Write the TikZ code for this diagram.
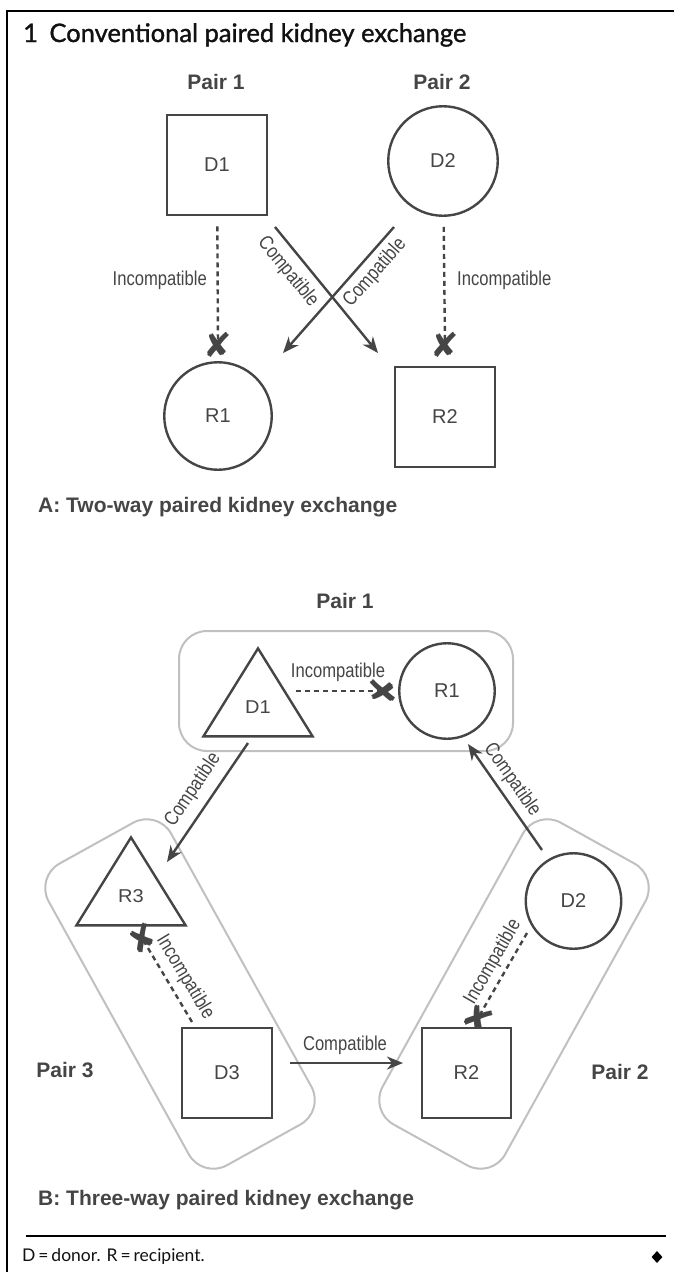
\documentclass[tikz,border=0pt]{standalone}
\usepackage{fontspec}
\setmainfont{Liberation Sans}
\newfontfamily\narrowfont[FakeStretch=0.83]{Liberation Sans}
\newfontfamily\titlefont[FakeBold=1.3]{Lato}
\newfontfamily\footfont{Lato}
\newfontfamily\symfont{DejaVu Sans}
\usetikzlibrary{shapes.geometric,arrows.meta,calc}
\definecolor{ink}{HTML}{454545}
\definecolor{boxg}{HTML}{BEC0C2}
\definecolor{titleink}{HTML}{111111}
\begin{document}
\begin{tikzpicture}[x=1pt,y=1pt,
  shp/.style={draw=ink, line width=2.4pt, text=ink, font=\fontsize{20}{24}\selectfont, inner sep=0pt},
  sq/.style={shp, rectangle, minimum size=#1},
  circ/.style={shp, circle, minimum size=#1},
  tri/.style={shp, regular polygon, regular polygon sides=3, minimum size=126, yscale=0.93},
  pairlbl/.style={text=ink, font=\fontsize{21}{25}\selectfont\bfseries, inner sep=0pt},
  edgelbl/.style={text=ink, font=\narrowfont\fontsize{20}{24}\selectfont, inner sep=0pt},
  comp/.style={draw=ink, line width=2.4pt, -{Stealth[length=16pt,width=13pt,inset=5pt]}},
  incomp/.style={draw=ink, line width=2.4pt, dash pattern=on 5pt off 4pt},
  xmark/.style={text=ink, font=\symfont\fontsize{34}{34}\selectfont, inner sep=0pt},
  pairbox/.style={draw=boxg, line width=2pt, rounded corners=28pt, inner sep=0pt},
]
\useasboundingbox (0,0) rectangle (674,-1272);
% frame
\coordinate (ftl) at (7,-11);
\coordinate (ftr) at (674,-11);
\coordinate (fbl) at (7,-1272);
\draw[line width=2.2pt] (ftr) -- (ftl) -- (fbl);
\node[anchor=base west, text=titleink, font=\titlefont\fontsize{25.5}{30}\selectfont, inner sep=0pt] (title) at (23,-42) {1\hspace{0.45em}Conventional paired kidney exchange};

% ---------- A ----------
\node[pairlbl] (p1a) at (216,-82) {Pair 1};
\node[pairlbl] (p2a) at (442,-82) {Pair 2};
\node[sq=100.5] (D1a) at (217,-165) {D1};
\node[circ=109.5] (D2a) at (443,-161) {D2};
\node[circ=107.5] (R1a) at (218,-416) {R1};
\node[sq=100.5] (R2a) at (445,-417) {R2};
\node[xmark] (xa) at (218,-345) {✘};
\node[xmark] (xb) at (445,-345) {✘};
\draw[incomp, shorten <=10pt] (D1a) -- (xa.center);
\draw[incomp, shorten <=10pt] (D2a) -- (xb.center);
\node[edgelbl, anchor=east] (ia) at (207,-280) {Incompatible};
\node[edgelbl, anchor=west] (ib) at (457,-280) {Incompatible};
\draw[comp] ($(D1a.center)+(58,-62)$) -- ($(R2a.center)+(-67,64)$);
\draw[comp] ($(D2a.center)+(-49,-66)$) -- ($(R1a.center)+(65,63)$);
\node[edgelbl, rotate=-50.7] (ca) at (288,-272) {Compatible};
\node[edgelbl, rotate=48.6] (cb) at (375,-273) {Compatible};
\node[pairlbl, anchor=west] (la) at (38,-507) {A: Two-way paired kidney exchange};

% ---------- B ----------
\node[pairlbl] (p1b) at (345,-601) {Pair 1};
\node[pairbox, minimum width=334, minimum height=120] (box1) at (346,-691) {};
\node[pairbox, minimum width=345, minimum height=140, rotate=-61] (box3) at (180,-994) {};
\node[pairbox, minimum width=345, minimum height=140, rotate=61] (box2) at (514,-994) {};

\node[tri] (D1b) at (258,-707) {D1};
\node[circ=95.5] (R1b) at (447,-691) {R1};
\node[tri] (R3b) at (131,-896) {R3};
\node[circ=95.5] (D2b) at (573.5,-901) {D2};
\node[sq=89.5] (D3b) at (227,-1073) {D3};
\node[sq=89.5] (R2b) at (466.5,-1073) {R2};

\node[xmark, rotate=90] (xc) at (383,-691) {✘};
\node[xmark, rotate=31] (xd) at (142,-938) {✘};
\node[xmark, rotate=-30] (xe) at (478,-1018) {✘};

\draw[incomp] (D1b.east |- xc) -- (xc.center);
\node[edgelbl] (ic) at (338,-672) {Incompatible};
\draw[incomp] ($(D3b.center)+(-35,51)$) -- (xd.center);
\node[edgelbl, rotate=-59] (id) at (185,-977) {Incompatible};
\draw[incomp] ($(D2b.center)+(-46.5,-32)$) -- (xe.center);
\node[edgelbl, rotate=60] (ie) at (493,-962) {Incompatible};

\draw[comp] ($(D1b.center)+(-10,-36)$) -- ($(R3b.center)+(36,34)$);
\node[edgelbl, rotate=56] (cc) at (193,-790) {Compatible};
\draw[comp] ($(D2b.center)+(-31.5,51)$) -- ($(R1b.center)+(21,-53)$);
\node[edgelbl, rotate=-55] (cd) at (512,-780) {Compatible};
\draw[comp] ($(D3b.center)+(63,10)$) -- ($(R2b.center)+(-63.5,10)$);
\node[edgelbl] (ce) at (345,-1045) {Compatible};

\node[pairlbl] (p3) at (65,-1070) {Pair 3};
\node[pairlbl] (p2b) at (620,-1072) {Pair 2};
\node[pairlbl, anchor=west] (lb) at (38,-1200) {B: Three-way paired kidney exchange};

% footer
\coordinate (s1) at (26,-1236);
\coordinate (s2) at (666,-1236);
\draw[line width=1.8pt] (s1) -- (s2);
\node[anchor=west, text=titleink, font=\footfont\fontsize{17.5}{20}\selectfont, inner sep=0pt] (foot) at (22,-1257) {D\,=\,donor. R\,=\,recipient.};
\node[diamond, fill=black, minimum width=11, minimum height=12, inner sep=0pt] (dia) at (657,-1257) {};
\end{tikzpicture}
\end{document}
